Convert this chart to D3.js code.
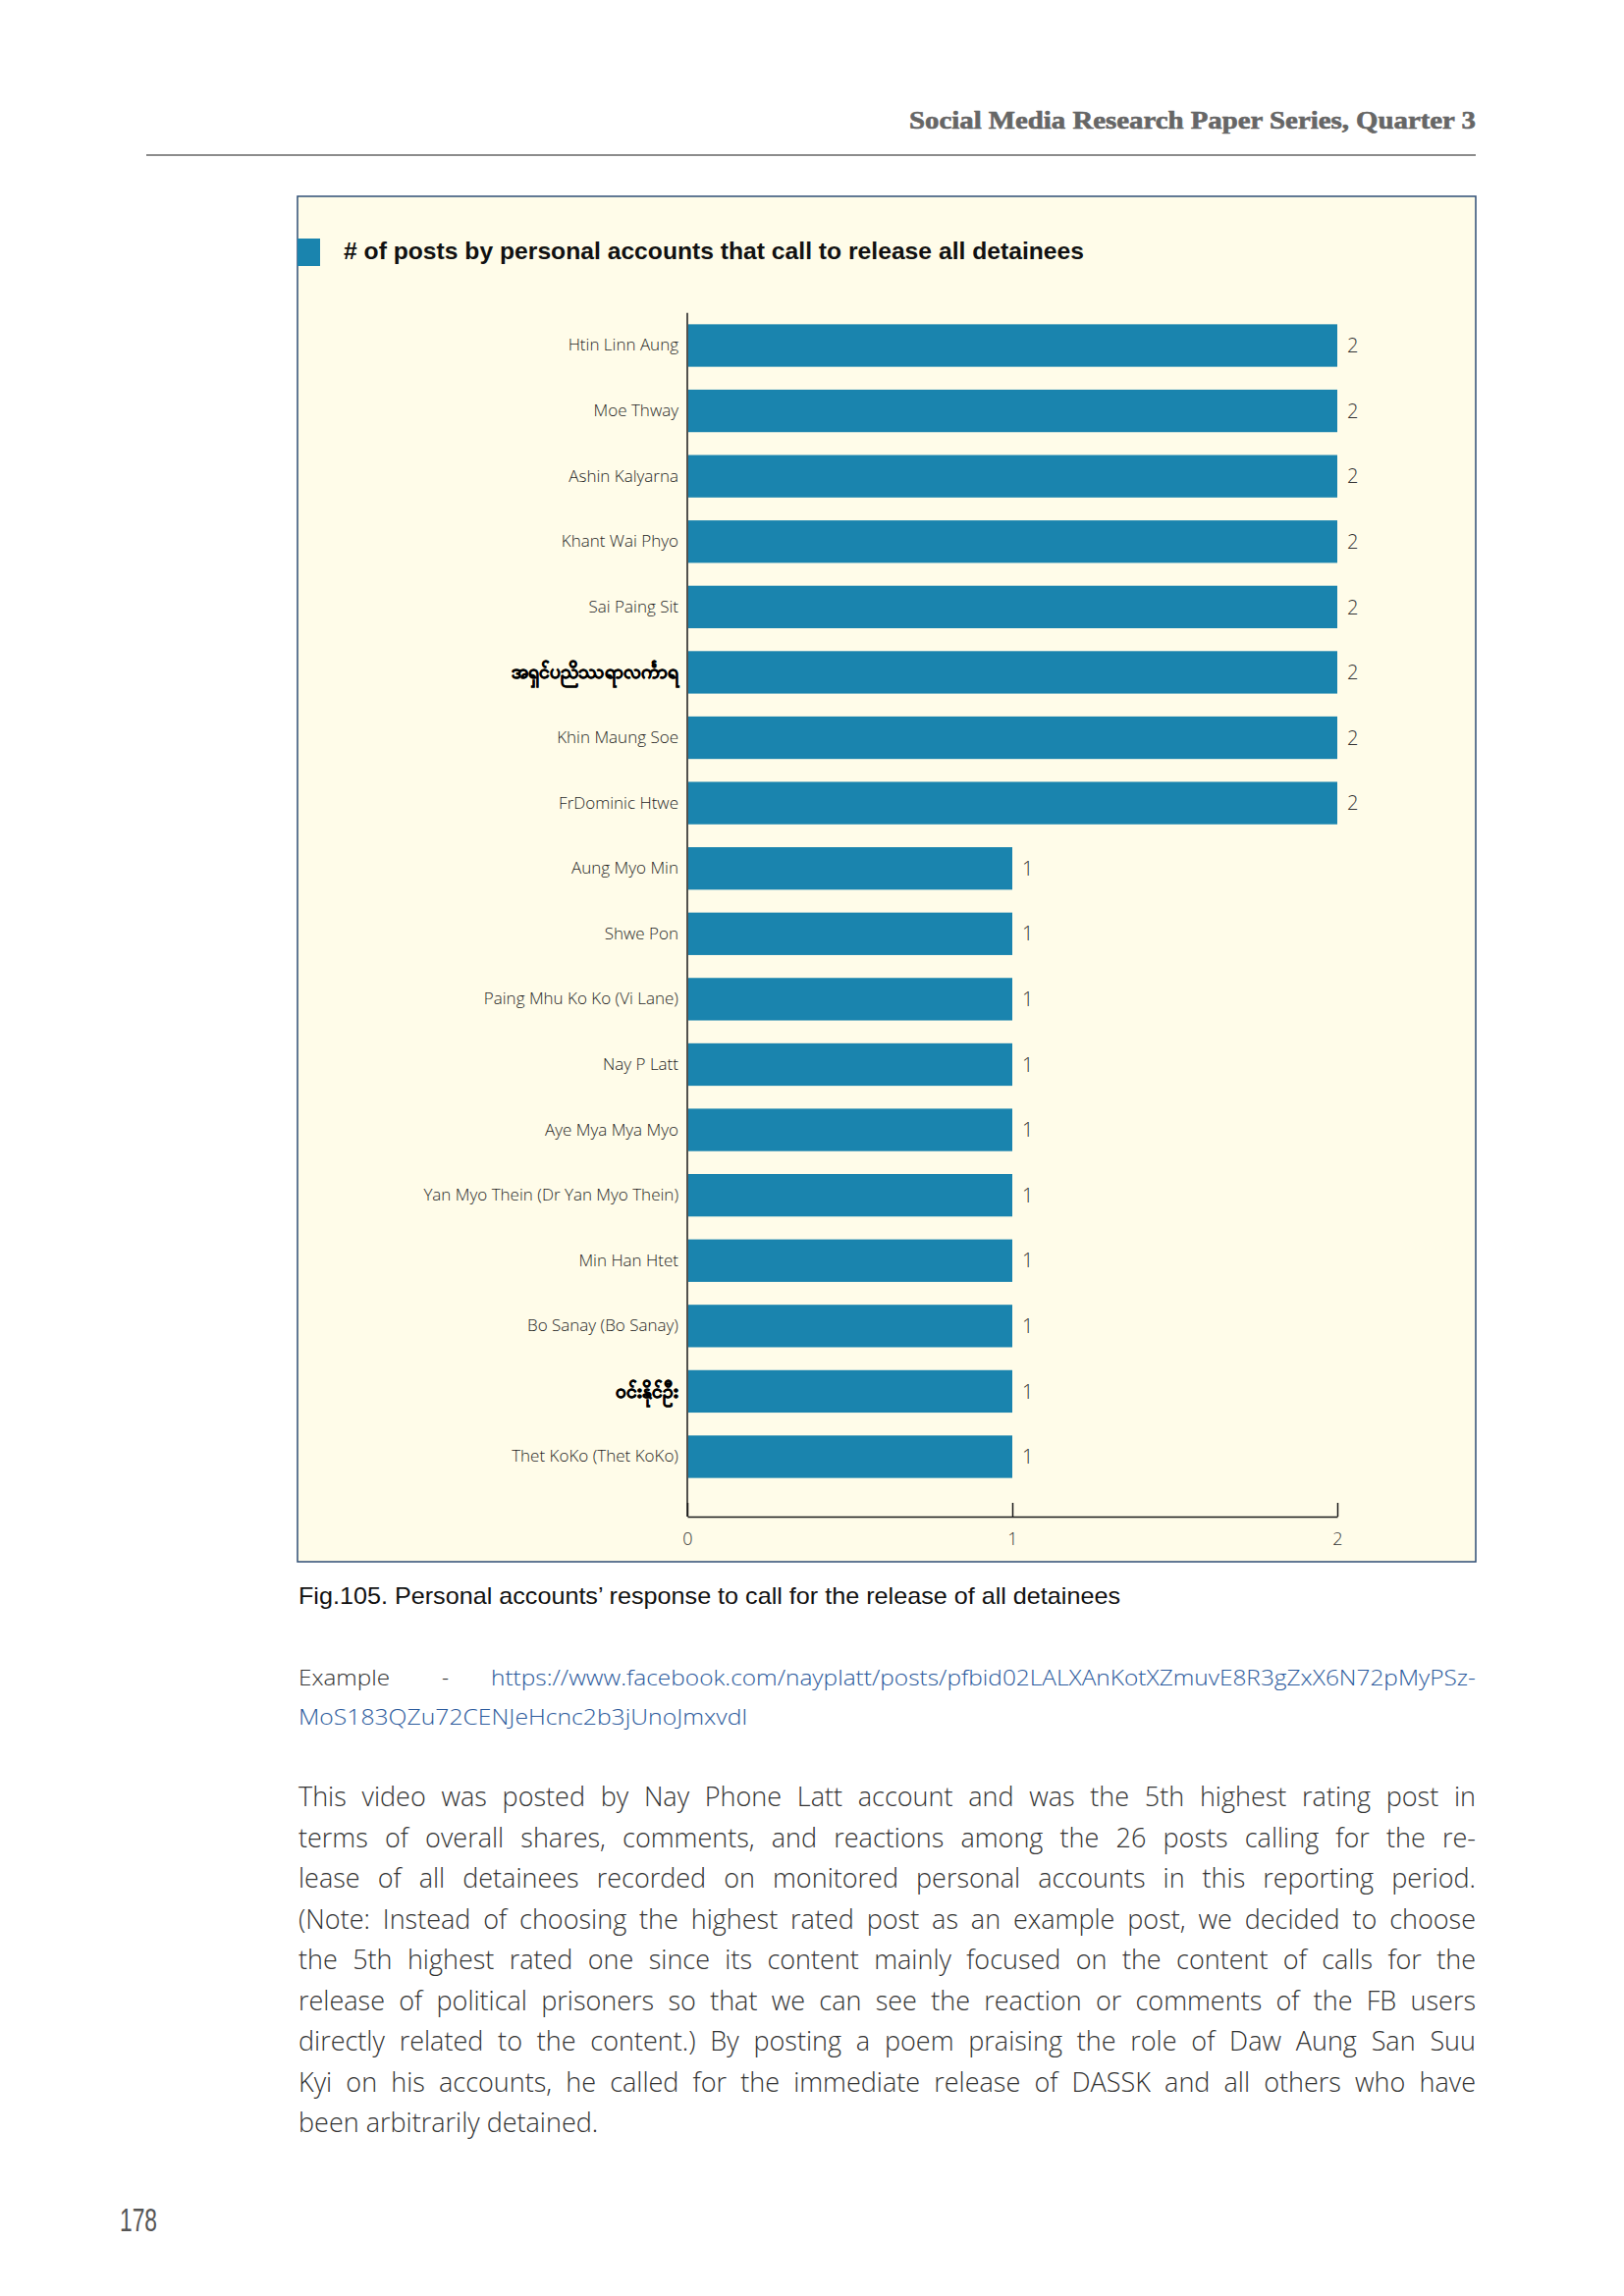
<!DOCTYPE html>
<html>
<head>
<meta charset="utf-8">
<script src="https://cdn.jsdelivr.net/npm/d3@7"></script>
<style>
  html, body { margin: 0; padding: 0; background: #ffffff; }
  svg { display: block; }
</style>
</head>
<body>
<svg id="page" width="1654" height="2339"></svg>
<script>
// ---------- DATA ----------
const categories = [
  "Htin Linn Aung",
  "Moe Thway",
  "Ashin Kalyarna",
  "Khant Wai Phyo",
  "Sai Paing Sit",
  "အရှင်ပညိဿရာလင်္ကာရ",
  "Khin Maung Soe",
  "FrDominic Htwe",
  "Aung Myo Min",
  "Shwe Pon",
  "Paing Mhu Ko Ko (Vi Lane)",
  "Nay P Latt",
  "Aye Mya Mya Myo",
  "Yan Myo Thein (Dr Yan Myo Thein)",
  "Min Han Htet",
  "Bo Sanay (Bo Sanay)",
  "ဝင်းနိုင်ဦး",
  "Thet KoKo (Thet KoKo)"
];
const values = [2, 2, 2, 2, 2, 2, 2, 2, 1, 1, 1, 1, 1, 1, 1, 1, 1, 1];
const xTicks = [0, 1, 2];

const headerText = "Social Media Research Paper Series, Quarter 3";
const chartTitle = "# of posts by personal accounts that call to release all detainees";
const captionText = "Fig.105. Personal accounts’ response to call for the release of all detainees";
const exampleUrl1 = "https://www.facebook.com/nayplatt/posts/pfbid02LALXAnKotXZmuvE8R3gZxX6N72pMyPSz-";
const exampleUrl2 = "MoS183QZu72CENJeHcnc2b3jUnoJmxvdl";
const paragraphLines = [
  "This video was posted by Nay Phone Latt account and was the 5th highest rating post in",
  "terms of overall shares, comments, and reactions among the 26 posts calling for the re-",
  "lease of all detainees recorded on monitored personal accounts in this reporting period.",
  "(Note: Instead of choosing the highest rated post as an example post, we decided to choose",
  "the 5th highest rated one since its content mainly focused on the content of calls for the",
  "release of political prisoners so that we can see the reaction or comments of the FB users",
  "directly related to the content.) By posting a poem praising the role of Daw Aung San Suu",
  "Kyi on his accounts, he called for the immediate release of DASSK and all others who have",
  "been arbitrarily detained."
];
const pageNumber = "178";

// ---------- STYLE ----------
const barColor = "#1a84ae";
const boxFill = "#fffce9";
const boxStroke = "#2e4d74";
const isMyanmar = s => /[\u1000-\u109F]/.test(s);

const svg = d3.select("#page");

// Header
svg.append("text")
  .attr("x", 1503).attr("y", 131)
  .attr("text-anchor", "end")
  .attr("textLength", 577).attr("lengthAdjust", "spacingAndGlyphs")
  .style("font-family", "'Liberation Serif', serif")
  .style("font-weight", 700).style("font-size", "25px")
  .style("fill", "#666").style("stroke", "#666").style("stroke-width", 0.6)
  .text(headerText);
svg.append("line")
  .attr("x1", 149).attr("x2", 1503).attr("y1", 158).attr("y2", 158)
  .attr("stroke", "#8c8c8c").attr("stroke-width", 2);

// Chart box
svg.append("rect")
  .attr("x", 303).attr("y", 200).attr("width", 1200).attr("height", 1391)
  .attr("fill", boxFill).attr("stroke", boxStroke).attr("stroke-width", 1.5);

// Title marker + title
svg.append("rect")
  .attr("x", 303).attr("y", 243).attr("width", 23).attr("height", 28)
  .attr("fill", barColor);
svg.append("text")
  .attr("x", 350).attr("y", 264)
  .attr("textLength", 754).attr("lengthAdjust", "spacingAndGlyphs")
  .style("font-family", "'Liberation Sans', Arial, sans-serif")
  .style("font-weight", 700).style("font-size", "24px")
  .style("fill", "#111")
  .text(chartTitle);

// Scales
const x = d3.scaleLinear().domain([0, 2]).range([700, 1362]);
const y = d3.scaleBand().domain(categories)
  .range([318.7, 1517.3]).paddingInner(0.35).paddingOuter(0.175);
const axisY = 1545;

const g = svg.append("g");

// Bars
g.selectAll("rect.bar").data(categories).join("rect")
  .attr("class", "bar")
  .attr("x", x(0) + 1)
  .attr("y", d => y(d))
  .attr("width", (d, i) => x(values[i]) - x(0) - 1)
  .attr("height", y.bandwidth())
  .attr("fill", barColor);

// Value labels
g.selectAll("text.val").data(categories).join("text")
  .attr("class", "val")
  .attr("x", (d, i) => x(values[i]) + 10)
  .attr("y", d => y(d) + y.bandwidth() / 2)
  .attr("dy", "0.36em")
  .style("font-family", "'Open Sans', sans-serif")
  .style("font-weight", 300).style("font-size", "20px")
  .style("fill", "#333")
  .text((d, i) => values[i]);

// Y axis (labels)
const yAxis = g.append("g")
  .attr("transform", `translate(${x(0)},0)`)
  .call(d3.axisLeft(y).tickSize(0).tickPadding(9));
yAxis.select(".domain").remove();
yAxis.selectAll(".tick text")
  .style("font-family", "'Open Sans', sans-serif")
  .style("font-weight", d => isMyanmar(d) ? 700 : 300)
  .style("font-size", d => isMyanmar(d) ? "19px" : "17px")
  .style("fill", d => isMyanmar(d) ? "#000" : "#1e1e1e")
  .style("stroke", d => isMyanmar(d) ? "#000" : "none")
  .style("stroke-width", d => isMyanmar(d) ? 0.7 : 0);
g.append("line")
  .attr("x1", x(0)).attr("x2", x(0))
  .attr("y1", y.range()[0]).attr("y2", axisY)
  .attr("stroke", "#1a1a1a").attr("stroke-width", 1.5);

// X axis
const xAxis = g.append("g")
  .attr("transform", `translate(0,${axisY})`)
  .call(d3.axisBottom(x).tickValues(xTicks).tickFormat(d3.format("d"))
    .tickSize(-14).tickSizeOuter(0).tickPadding(16));
xAxis.select(".domain").attr("stroke", "#1a1a1a").attr("stroke-width", 1.5);
xAxis.selectAll(".tick line").attr("stroke", "#1a1a1a").attr("stroke-width", 1.5);
xAxis.selectAll(".tick text")
  .style("font-family", "'Open Sans', sans-serif")
  .style("font-weight", 300).style("font-size", "18px")
  .style("fill", "#333");

// Caption
svg.append("text")
  .attr("x", 304).attr("y", 1634)
  .attr("textLength", 837).attr("lengthAdjust", "spacingAndGlyphs")
  .style("font-family", "'Liberation Sans', Arial, sans-serif")
  .style("font-size", "24px")
  .style("fill", "#111")
  .text(captionText);

// Example link
const lightFont = "'Open Sans', sans-serif";
svg.append("text")
  .attr("x", 304).attr("y", 1717)
  .attr("textLength", 93).attr("lengthAdjust", "spacingAndGlyphs")
  .style("font-family", lightFont).style("font-weight", 300).style("font-size", "22px")
  .style("fill", "#333").text("Example");
svg.append("text")
  .attr("x", 450).attr("y", 1717)
  .style("font-family", lightFont).style("font-weight", 300).style("font-size", "22px")
  .style("fill", "#333").text("-");
svg.append("text")
  .attr("x", 500).attr("y", 1717)
  .attr("textLength", 1003).attr("lengthAdjust", "spacingAndGlyphs")
  .style("font-family", lightFont).style("font-weight", 300).style("font-size", "22px")
  .style("fill", "#2b5a9c").text(exampleUrl1);
svg.append("text")
  .attr("x", 304).attr("y", 1757)
  .attr("textLength", 457).attr("lengthAdjust", "spacingAndGlyphs")
  .style("font-family", lightFont).style("font-weight", 300).style("font-size", "22px")
  .style("fill", "#2b5a9c").text(exampleUrl2);

// Paragraph (justified lines)
const paraX = 304, paraW = 1199, para0 = 1840, paraStep = 41.5;
paragraphLines.forEach((line, i) => {
  const t = svg.append("text")
    .attr("x", paraX).attr("y", para0 + i * paraStep)
    .style("font-family", lightFont).style("font-weight", 300).style("font-size", "27px")
    .style("fill", "#333")
    .text(line);
  if (i < paragraphLines.length - 1) {
    const len = t.node().getComputedTextLength();
    const spaces = (line.match(/ /g) || []).length;
    if (spaces > 0) {
      const ws = (paraW - len) / spaces;
      if (ws >= 0) t.style("word-spacing", ws + "px");
      else t.attr("textLength", paraW).attr("lengthAdjust", "spacingAndGlyphs");
    }
  }
});

// Page number
svg.append("text")
  .attr("x", 122).attr("y", 2273)
  .attr("textLength", 38).attr("lengthAdjust", "spacingAndGlyphs")
  .style("font-family", "'Liberation Sans', Arial, sans-serif")
  .style("font-size", "34px")
  .style("fill", "#555")
  .text(pageNumber);
</script>
</body>
</html>
